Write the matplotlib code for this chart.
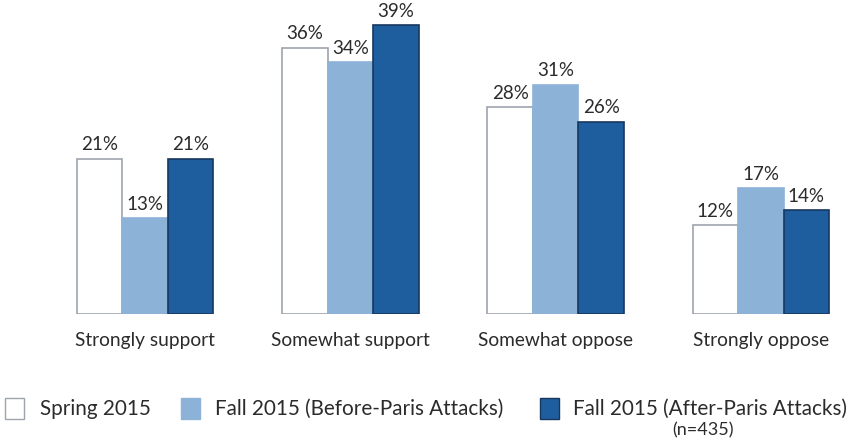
import matplotlib
matplotlib.use("Agg")
import matplotlib.pyplot as plt
from matplotlib.patches import Rectangle
import numpy as np

plt.rcParams['font.family'] = ['Lato', 'DejaVu Sans']

categories = ["Strongly support", "Somewhat support", "Somewhat oppose", "Strongly oppose"]
series_names = ["Spring 2015", "Fall 2015 (Before-Paris Attacks)", "Fall 2015 (After-Paris Attacks)"]
spring_2015 = [21, 36, 28, 12]
fall_before = [13, 34, 31, 17]
fall_after = [21, 39, 26, 14]
note = "(n=435)"

fills = ["#ffffff", "#8db2d7", "#1f5e9e"]
edges = ["#9ea3ad", "#8db2d7", "#17375e"]
text_color = "#2b2b2b"

fig = plt.figure(figsize=(8.55, 4.4), dpi=100)
W, H = 855, 440
left_px, right_px = 10, 845
base_px, top_px = 314, 10
ax = fig.add_axes([left_px / W, (H - base_px) / H, (right_px - left_px) / W, (base_px - top_px) / H])

spacing = 205.3
x0 = 145
ax.set_xlim((left_px - x0) / spacing, (right_px - x0) / spacing)
ppp = 7.4
ax.set_ylim(0, (base_px - top_px) / ppp)

x = np.arange(len(categories))
bw = 45.5 / spacing
for i, vals in enumerate([spring_2015, fall_before, fall_after]):
    pos = x + (i - 1) * bw
    ax.bar(pos, vals, width=bw, color=fills[i], edgecolor=edges[i], linewidth=1.2)
    for p, v in zip(pos, vals):
        ax.text(p, v + 0.7, f"{v}%", ha="center", va="bottom", fontsize=13.5, color=text_color)

for xi, c in zip(x, categories):
    ax.text(xi, -3.6, c, ha="center", va="center", fontsize=13.8, color=text_color)

ax.axis("off")

# legend
legend_items = [(5, 40), (181, 215), (540, 573)]
for (bx, tx), name, f, e in zip(legend_items, series_names, fills, edges):
    fig.patches.append(Rectangle((bx / W, (H - 419) / H), 19 / W, 21 / H,
                                 facecolor=f, edgecolor=e, linewidth=1.0,
                                 transform=fig.transFigure, figure=fig))
    fig.text(tx / W, (H - 409) / H, name, ha="left", va="center", fontsize=14.9, color=text_color)
fig.text(703 / W, (H - 430) / H, note, ha="center", va="center", fontsize=13, color=text_color)

fig.savefig("out.png", dpi=100)
